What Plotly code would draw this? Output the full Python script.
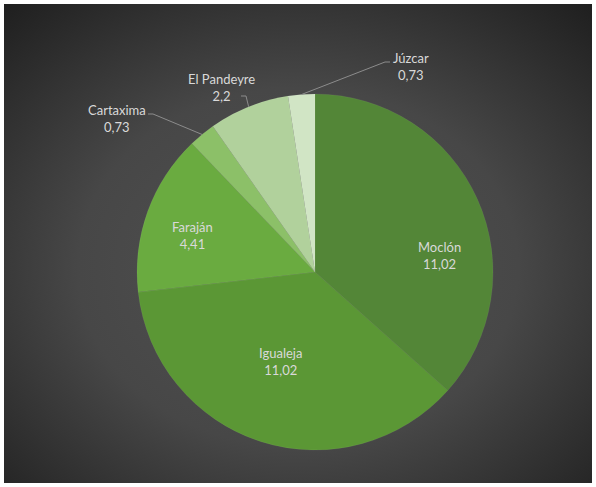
import math
import base64
import plotly.graph_objects as go

# ---- data ----
labels = ["Moclón", "Igualeja", "Faraján", "Cartaxima", "El Pandeyre", "Júzcar"]
values = [11.02, 11.02, 4.41, 0.73, 2.2, 0.73]
colors = ["#538637", "#5b9735", "#6aab40", "#8cc068", "#b1d19c", "#d1e5c5"]

W, H = 596, 487
# pie geometry (pixels)
CX, CY, R = 315, 272, 178


def px(x):
    return x / W


def py(y):
    return 1 - y / H


def fmt(v):
    s = ("%.2f" % v).rstrip("0").rstrip(".")
    return s.replace(".", ",")


fig = go.Figure()
fig.add_trace(go.Pie(
    labels=labels, values=values, sort=False, direction="clockwise", rotation=0,
    marker=dict(colors=colors, line=dict(width=0.5, color="rgba(255,255,255,0.1)")),
    textinfo="none", hoverinfo="label+value", showlegend=False,
    domain=dict(x=[px(CX - R), px(CX + R)], y=[py(CY + R), py(CY - R)]),
))

# label placement (pixel centers of the label blocks) and leader-line anchor
label_pos = {
    "Moclón": (439, 255, None),
    "Igualeja": (280, 361, None),
    "Faraján": (192, 235, None),
    "Cartaxima": (117, 118, [(148, 114), (153, 114)]),
    "El Pandeyre": (221, 87, [(241, 96), (246, 96)]),
    "Júzcar": (411, 67, [(390, 62), (385, 62)]),
}

total = sum(values)
cum = 0.0
shapes = []
annotations = []
for lab, v in zip(labels, values):
    mid = (cum + v / 2) / total * 2 * math.pi
    cum += v
    ex = CX + R * math.sin(mid)
    ey = CY - R * math.cos(mid)
    lx, ly, lead = label_pos[lab]
    annotations.append(dict(
        x=px(lx), y=py(ly), xref="paper", yref="paper", showarrow=False,
        xanchor="center", yanchor="middle",
        text=f"{lab}<br>{fmt(v)}", align="center",
        font=dict(family="Lato, Open Sans, sans-serif", size=13, color="#d9d9d9"),
    ))
    if lead:
        pts = lead + [(ex, ey)]
        for (a0, b0), (a1, b1) in zip(pts[:-1], pts[1:]):
            shapes.append(dict(type="line", xref="paper", yref="paper",
                               x0=px(a0), y0=py(b0), x1=px(a1), y1=py(b1),
                               line=dict(color="#8c8c8c", width=1), layer="above"))

# background gradient (SVG)
svg = ('<svg xmlns="http://www.w3.org/2000/svg" width="588" height="479" viewBox="0 0 588 479">'
       '<defs><radialGradient id="g" cx="50%" cy="55%" r="75%">'
       '<stop offset="0%" stop-color="#525252"/><stop offset="50%" stop-color="#474747"/>'
       '<stop offset="100%" stop-color="#1e1e1e"/></radialGradient></defs>'
       '<rect width="588" height="479" fill="url(#g)"/></svg>')
src = "data:image/svg+xml;base64," + base64.b64encode(svg.encode()).decode()

fig.update_layout(
    width=W, height=H, margin=dict(l=0, r=0, t=0, b=0),
    paper_bgcolor="white", plot_bgcolor="white",
    images=[dict(source=src, xref="paper", yref="paper", x=px(4), y=py(4),
                 sizex=px(592) - px(4), sizey=py(4) - py(483),
                 xanchor="left", yanchor="top", sizing="stretch", layer="below")],
    shapes=shapes, annotations=annotations,
)

fig.write_html("out.html")
